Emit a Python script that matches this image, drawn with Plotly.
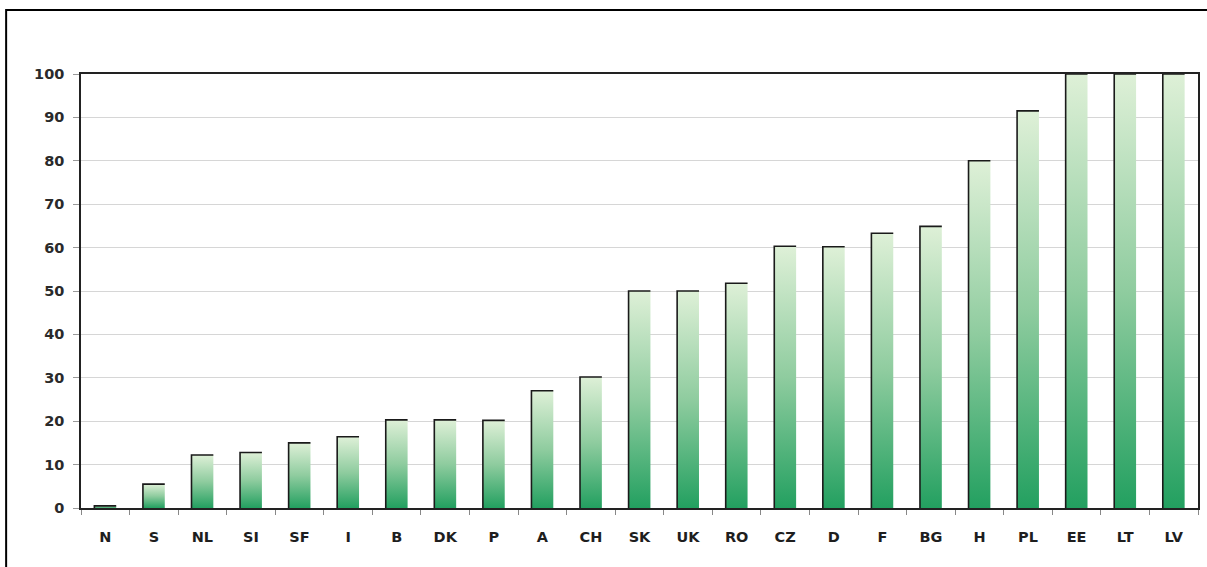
import plotly.graph_objects as go

# Country codes and their values (percent)
countries = ["N", "S", "NL", "SI", "SF", "I", "B", "DK", "P", "A", "CH", "SK",
             "UK", "RO", "CZ", "D", "F", "BG", "H", "PL", "EE", "LT", "LV"]
values = [0.5, 5.5, 12.2, 12.8, 15.0, 16.4, 20.3, 20.3, 20.2, 27.0, 30.2, 50.0,
          50.0, 51.8, 60.3, 60.2, 63.3, 64.9, 80.0, 91.5, 100, 100, 100]
y_ticks = [0, 10, 20, 30, 40, 50, 60, 70, 80, 90, 100]

BAR_W = 0.45
DARK = "#23a060"
LIGHT = "#def0d7"
EDGE = "#1a1a1a"

fig = go.Figure()

# Each bar is a filled rectangle with its own bottom-to-top green gradient
for i, v in enumerate(values):
    x0, x1 = i - BAR_W / 2, i + BAR_W / 2
    fig.add_trace(go.Scatter(
        x=[x0, x1, x1, x0, x0], y=[0, 0, v, v, 0],
        mode="lines", fill="toself", line=dict(width=0),
        fillgradient=dict(type="vertical",
                          colorscale=[[0, DARK], [0.5, "#8fcc9f"], [1, LIGHT]],
                          start=0, stop=v),
        hoverinfo="skip", showlegend=False))

# Dark shading along the left and top edge of every bar
ex, ey = [], []
for i, v in enumerate(values):
    x0, x1 = i - BAR_W / 2, i + BAR_W / 2
    ex += [x0, x0, x1, None]
    ey += [0, v, v, None]
fig.add_trace(go.Scatter(x=ex, y=ey, mode="lines",
                         line=dict(color=EDGE, width=1.6),
                         hoverinfo="skip", showlegend=False))

W, H = 1207, 567
ML, MR, MT, MB = 81, 7, 74, 59
pw, ph = W - ML - MR, H - MT - MB

fig.update_layout(
    width=W, height=H,
    margin=dict(l=ML, r=MR, t=MT, b=MB, pad=0),
    paper_bgcolor="white", plot_bgcolor="white",
    font=dict(family="DejaVu Sans", color="#222222"),
    xaxis=dict(
        range=[-0.5, len(countries) - 0.5],
        tickmode="array", tickvals=list(range(len(countries))),
        ticktext=countries, ticks="", showgrid=False, zeroline=False,
        showline=True, linecolor="#222222", linewidth=1.5, mirror=True,
        tickfont=dict(size=14.5, weight="bold", color="#1e1e1e"),
        ticklabelstandoff=15,
        minor=dict(tickmode="linear", tick0=-0.5, dtick=1, ticks="outside",
                   ticklen=5, tickcolor="#888888", showgrid=False),
    ),
    yaxis=dict(
        range=[0, 100], tickmode="array", tickvals=y_ticks,
        ticks="outside", ticklen=6, tickcolor="#999999",
        showgrid=True, gridcolor="#d6d6d6", gridwidth=1, zeroline=False,
        showline=True, linecolor="#222222", linewidth=1.5, mirror=True,
        tickfont=dict(size=14.5, weight="bold", color="#2a2a2a"),
        ticklabelstandoff=6,
    ),
    shapes=[dict(
        type="rect", xref="paper", yref="paper", layer="above",
        x0=(6 - ML) / pw, x1=(W + 20 - ML) / pw,
        y0=-(H + 20 - MT - ph) / ph, y1=(MT + ph - 10) / ph,
        line=dict(color="black", width=2), fillcolor="rgba(0,0,0,0)",
    )],
)

fig.write_html("out.html")
